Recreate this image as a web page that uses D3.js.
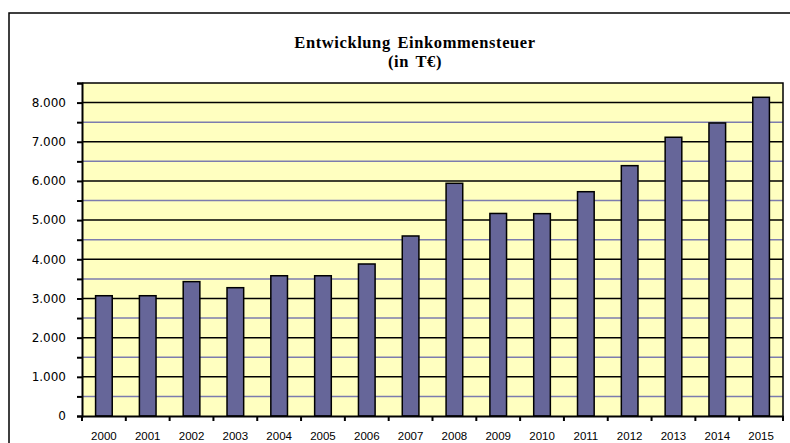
<!DOCTYPE html>
<html>
<head>
<meta charset="utf-8">
<script src="https://cdn.jsdelivr.net/npm/d3@7"></script>
<style>
  html, body { margin: 0; padding: 0; background: #fff; }
  svg { display: block; }
</style>
</head>
<body>
<svg id="chart"></svg>
<script>
// Chart data
const years = ["2000", "2001", "2002", "2003", "2004", "2005", "2006", "2007",
               "2008", "2009", "2010", "2011", "2012", "2013", "2014", "2015"];
const tax = [3070, 3070, 3430, 3275, 3580, 3580, 3880, 4595,
             5940, 5170, 5165, 5725, 6390, 7115, 7480, 8135];
const majorTicks = [0, 1000, 2000, 3000, 4000, 5000, 6000, 7000, 8000];
const minorTicks = [500, 1500, 2500, 3500, 4500, 5500, 6500, 7500, 8500];
const titleLines = ["Entwicklung Einkommensteuer", "(in T€)"];

const W = 790, H = 443;
const plot = { left: 82, right: 783, top: 83, bottom: 416 };

const svg = d3.select("#chart").attr("width", W).attr("height", H);

// outer chart frame (runs off the right and bottom edges)
svg.append("rect")
    .attr("x", 9).attr("y", 13)
    .attr("width", 900).attr("height", 600)
    .attr("fill", "#fff")
    .attr("stroke", "#000")
    .attr("stroke-width", 1.5);

const de = d3.formatLocale({ decimal: ",", thousands: ".", grouping: [3], currency: ["", "€"] });
const fmt = de.format(",");

const x = d3.scaleBand()
    .domain(years)
    .range([plot.left, plot.right])
    .paddingInner(0.62)
    .paddingOuter(0.31);

const y = d3.scaleLinear()
    .domain([0, 8500])
    .range([plot.bottom, plot.top]);

// plot area background
svg.append("rect")
    .attr("x", plot.left).attr("y", plot.top)
    .attr("width", plot.right - plot.left)
    .attr("height", plot.bottom - plot.top)
    .attr("fill", "#ffffc0");

// minor gridlines (blue-grey)
svg.append("g")
    .selectAll("line")
    .data(minorTicks.filter(d => d < 8500))
    .join("line")
    .attr("x1", plot.left).attr("x2", plot.right)
    .attr("y1", d => y(d)).attr("y2", d => y(d))
    .attr("stroke", "#7c7cae")
    .attr("stroke-width", 1.5);

// major gridlines (black)
svg.append("g")
    .selectAll("line")
    .data(majorTicks.filter(d => d > 0))
    .join("line")
    .attr("x1", plot.left).attr("x2", plot.right)
    .attr("y1", d => y(d)).attr("y2", d => y(d))
    .attr("stroke", "#000")
    .attr("stroke-width", 1.5);

// plot border top/right
svg.append("path")
    .attr("d", `M${plot.left},${plot.top}H${plot.right}V${plot.bottom}`)
    .attr("fill", "none")
    .attr("stroke", "#000")
    .attr("stroke-width", 1.5);

// bars
svg.append("g")
    .selectAll("rect")
    .data(years.map((yr, i) => ({ yr, v: tax[i] })))
    .join("rect")
    .attr("x", d => x(d.yr))
    .attr("y", d => y(d.v))
    .attr("width", x.bandwidth())
    .attr("height", d => y(0) - y(d.v))
    .attr("fill", "#666699")
    .attr("stroke", "#000")
    .attr("stroke-width", 1.5);

// y axis: major ticks with labels
const yAxis = svg.append("g")
    .attr("transform", `translate(${plot.left},0)`)
    .call(d3.axisLeft(y).tickValues(majorTicks).tickSize(5).tickPadding(11).tickFormat(fmt));
yAxis.select(".domain").attr("stroke-width", 2);
yAxis.selectAll(".tick line").attr("stroke-width", 2);
yAxis.selectAll(".tick text")
    .attr("font-family", "'DejaVu Sans', Verdana, sans-serif")
    .attr("font-size", 12)
    .attr("fill", "#000");

// y axis: minor ticks
const yMinor = svg.append("g")
    .attr("transform", `translate(${plot.left},0)`)
    .call(d3.axisLeft(y).tickValues(minorTicks).tickSize(5).tickFormat(""));
yMinor.select(".domain").remove();
yMinor.selectAll(".tick line").attr("stroke-width", 2);

// x axis: labels under bars, ticks between categories
const xAxis = svg.append("g")
    .attr("transform", `translate(0,${plot.bottom})`)
    .call(d3.axisBottom(x).tickSize(0).tickPadding(16));
xAxis.select(".domain").attr("stroke-width", 2);
xAxis.selectAll(".tick text")
    .attr("font-family", "'Liberation Sans', Arial, sans-serif")
    .attr("font-size", 11.5)
    .attr("fill", "#000");

const step = x.step();
svg.append("g")
    .selectAll("line")
    .data(d3.range(years.length + 1))
    .join("line")
    .attr("x1", i => plot.left + i * step)
    .attr("x2", i => plot.left + i * step)
    .attr("y1", plot.bottom)
    .attr("y2", plot.bottom + 5)
    .attr("stroke", "#000")
    .attr("stroke-width", 2);

// title
svg.append("text")
    .attr("x", 415)
    .attr("y", 48)
    .attr("text-anchor", "middle")
    .attr("font-family", "'Liberation Serif', 'Times New Roman', serif")
    .attr("font-weight", "bold")
    .attr("font-size", 16.5)
    .attr("letter-spacing", 0.6)
    .attr("word-spacing", 2)
    .selectAll("tspan")
    .data(titleLines)
    .join("tspan")
    .attr("x", 415)
    .attr("dy", (d, i) => i === 0 ? 0 : 19)
    .text(d => d);
</script>
</body>
</html>
